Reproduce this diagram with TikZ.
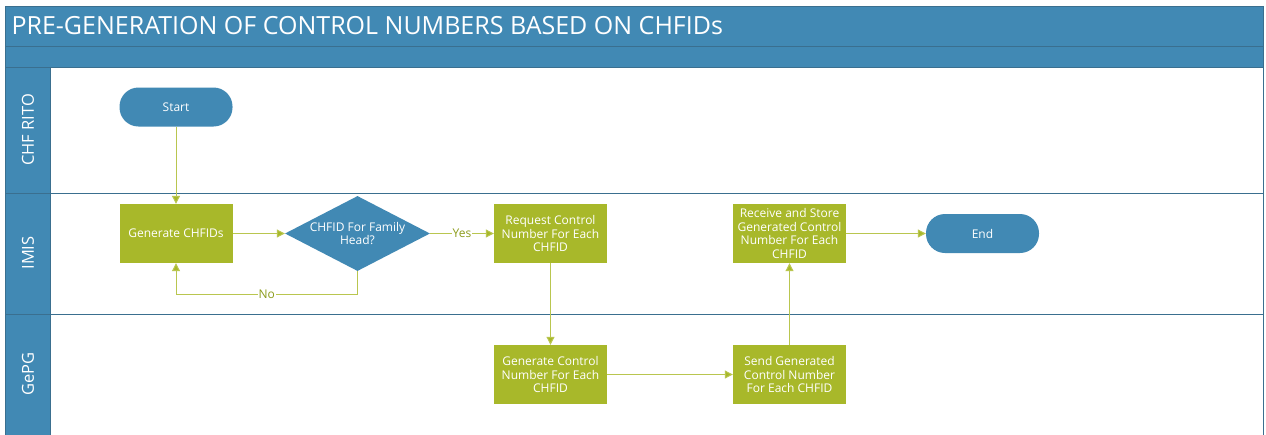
\documentclass[tikz,border=0pt]{standalone}
\usepackage{fontspec}
\setmainfont{Open Sans}
\usetikzlibrary{shapes.geometric,arrows.meta}
\definecolor{hdr}{HTML}{4189B4}
\definecolor{hdrline}{HTML}{3A6F8F}
\definecolor{grn}{HTML}{A8B82A}
\definecolor{lgrn}{HTML}{B9C64F}
\definecolor{lbl}{HTML}{8C9C1C}
\begin{document}
\begin{tikzpicture}[x=1pt,y=-1pt,
  lanebox/.style={fill=hdr,draw=hdrline,line width=0.8pt},
  procbox/.style={rectangle,fill=grn,text=white,minimum width=113pt,minimum height=59pt,inner sep=1pt,align=center,font=\fontsize{12}{13.8}\selectfont},
  termbox/.style={rectangle,rounded corners=19pt,fill=hdr,text=white,minimum width=113pt,minimum height=39pt,font=\fontsize{12}{13.8}\selectfont},
  decbox/.style={diamond,aspect=1.93,fill=hdr,text=white,inner sep=0pt,minimum width=145pt,minimum height=75pt,align=center,font=\fontsize{12}{13.8}\selectfont},
  flow/.style={draw=lgrn,line width=1pt,-{Triangle[length=8pt,width=8pt,fill=grn]}},
  flowlbl/.style={fill=white,text=lbl,inner sep=1pt,font=\fontsize{12}{13.8}\selectfont},
  lanetxt/.style={text=white,rotate=90,font=\fontsize{16.5}{18}\selectfont}]
\useasboundingbox (0,0) rectangle (1266,434);
\fill[white] (0,0) rectangle (1266,434);
% frame
\draw[hdrline,line width=0.8pt,fill=white] (5,6) rectangle (1263,440);
\draw[lanebox] (5,6) rectangle (1263,46);
\draw[lanebox] (5,46) rectangle (1263,67);
\node[anchor=west,text=white,font=\fontsize{25}{27}\selectfont] (title) at (8,26) {PRE-GENERATION OF CONTROL NUMBERS BASED ON CHFIDs};
% lanes
\draw[lanebox] (5,67) rectangle (50,193);
\draw[lanebox] (5,193) rectangle (50,314);
\draw[lanebox] (5,314) rectangle (50,440);
\draw[hdrline,line width=0.8pt] (50,193) -- (1263,193);
\draw[hdrline,line width=0.8pt] (50,314) -- (1263,314);
\node[lanetxt] (l1) at (28,130) {CHF RITO};
\node[lanetxt] (l2) at (28,253) {IMIS};
\node[lanetxt] (l3) at (28,374) {GePG};
% nodes
\node[termbox] (start) at (176,107) {Start};
\node[procbox] (gen) at (176,233.5) {Generate CHFIDs};
\node[decbox] (dec) at (357.5,233.5) {CHFID For Family\\Head?};
\node[procbox] (req) at (550.5,233.5) {Request Control\\Number For Each\\CHFID};
\node[procbox] (gcn) at (550.5,374.5) {Generate Control\\Number For Each\\CHFID};
\node[procbox] (send) at (789.5,374.5) {Send Generated\\Control Number\\For Each CHFID};
\node[procbox] (recv) at (789.5,233.5) {Receive and Store\\Generated Control\\Number For Each\\CHFID};
\node[termbox] (end) at (982.5,233.5) {End};
% connectors
\draw[flow] (start) -- (gen);
\draw[flow] (gen) -- (dec);
\draw[flow] (dec) -- node[flowlbl] {Yes} (req);
\draw[flow] (dec.south) -- (357.5,294) -- node[flowlbl] {No} (176,294) -- (gen.south);
\draw[flow] (req) -- (gcn);
\draw[flow] (gcn) -- (send);
\draw[flow] (send) -- (recv);
\draw[flow] (recv) -- (end);
\end{tikzpicture}
\end{document}
